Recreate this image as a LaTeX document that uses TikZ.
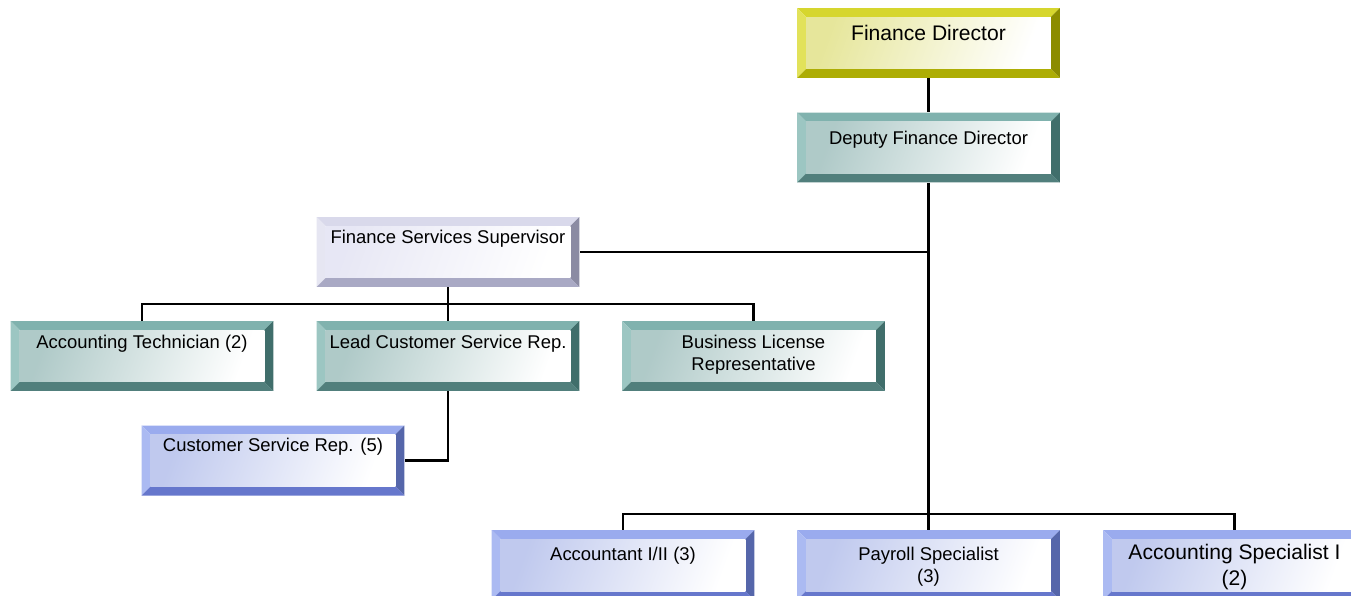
\documentclass[tikz,border=0pt]{standalone}
\usepackage{fontspec}
\setmainfont{Liberation Sans}
\usepackage{tikz}
\usetikzlibrary{positioning, calc}

% bevel colours: top, left, right, bottom, tint
\definecolor{yeltop}{HTML}{D6D62E}
\definecolor{yelleft}{HTML}{E2E25A}
\definecolor{yelright}{HTML}{8C8C00}
\definecolor{yelbottom}{HTML}{ADAD05}
\definecolor{yeltint}{HTML}{D2D24A}
\definecolor{tealtop}{HTML}{80B2AE}
\definecolor{tealleft}{HTML}{9CC6C2}
\definecolor{tealright}{HTML}{406E6B}
\definecolor{tealbottom}{HTML}{517F7C}
\definecolor{tealtint}{HTML}{6E9E9B}
\definecolor{lavtop}{HTML}{D9D9EB}
\definecolor{lavleft}{HTML}{E6E6F2}
\definecolor{lavright}{HTML}{8B8BA3}
\definecolor{lavbottom}{HTML}{A9A9C4}
\definecolor{lavtint}{HTML}{D4D4EC}
\definecolor{blutop}{HTML}{9AABEE}
\definecolor{bluleft}{HTML}{ABBAF2}
\definecolor{bluright}{HTML}{5566AA}
\definecolor{blubottom}{HTML}{6677CC}
\definecolor{blutint}{HTML}{8C9DE0}

\newcommand{\boxtext}[2][15.5pt]{\parbox[c][1.4cm][t]{5.26cm}{\centering\rule{0pt}{#1}#2}}

\begin{document}
\begin{tikzpicture}[
	x=0.02cm, y=-0.02cm,
	every node/.style={font=\fontsize{10.5}{12.6}\selectfont},
	bigtext/.style={font=\fontsize{12}{14.5}\selectfont},
	link/.style={draw=black, line width=1.3pt},
	orgbox/.style={rectangle, inner sep=0pt, minimum width=5.26cm, minimum height=1.4cm,
		path picture={
			\coordinate (bnw) at (path picture bounding box.north west);
			\coordinate (bse) at (path picture bounding box.south east);
			\coordinate (bne) at (path picture bounding box.north east);
			\coordinate (bsw) at (path picture bounding box.south west);
			\fill[#1top] (bnw) -- (bne) -- ($(bne)+(-9,9)$) -- ($(bnw)+(9,9)$) -- cycle;
			\fill[#1left] (bnw) -- ($(bnw)+(9,9)$) -- ($(bsw)+(9,-9)$) -- (bsw) -- cycle;
			\fill[#1right] (bne) -- (bse) -- ($(bse)+(-9,-9)$) -- ($(bne)+(-9,9)$) -- cycle;
			\fill[#1bottom] (bsw) -- ($(bsw)+(9,-9)$) -- ($(bse)+(-9,-9)$) -- (bse) -- cycle;
			\shade[left color=#1tint!55!white, right color=white, shading angle=70]
			($(bnw)+(9,9)$) rectangle ($(bse)+(-9,-9)$);
		}}
	]
	
	\useasboundingbox (0,0) rectangle (1351,595);
	
	% === DIRECTORS ===
	\node[orgbox=yel, bigtext] (findir) at (928.5, 43) {\boxtext[18.5pt]{Finance Director}};
	\node[orgbox=teal] (deputy) at (928.5, 147.5) {\boxtext[18pt]{Deputy Finance Director}};
	
	% === FINANCE SERVICES ===
	\node[orgbox=lav] (supervisor) at (448, 252) {\boxtext[15pt]{Finance Services Supervisor}};
	\node[orgbox=teal] (acctech) at (142, 356) {\boxtext[15.7pt]{Accounting Technician (2)}};
	\node[orgbox=teal] (leadrep) at (448, 356) {\boxtext[15.7pt]{Lead Customer Service Rep.}};
	\node[orgbox=teal] (license) at (753.5, 356) {\boxtext[15.7pt]{Business License\\Representative}};
	\node[orgbox=blu] (custrep) at (273, 460.5) {\boxtext[15pt]{Customer Service Rep. (5)}};
	
	% === ACCOUNTING STAFF ===
	\node[orgbox=blu] (accountant) at (623, 565) {\boxtext[17.4pt]{Accountant I/II (3)}};
	\node[orgbox=blu] (payroll) at (928.5, 565) {\boxtext[17.4pt]{Payroll Specialist\\(3)}};
	\node[orgbox=blu, bigtext] (specialist) at (1234.5, 565) {\boxtext[16.8pt]{Accounting Specialist I\\(2)}};
	
	% === CONNECTORS ===
	\coordinate (midbus) at (448, 304);
	\coordinate (lowbus) at (928.5, 514);
	
	\draw[link] (findir) -- (deputy);
	\draw[link] (deputy.south) |- (supervisor.east);
	\draw[link] (deputy.south) -- (payroll.north);
	\draw[link] (accountant.north) |- (lowbus) -| (specialist.north);
	
	\draw[link] (supervisor.south) -- (leadrep.north);
	\draw[link] (acctech.north) |- (midbus) -| (license.north);
	\draw[link] (leadrep.south) |- (custrep.east);
	
\end{tikzpicture}
\end{document}
